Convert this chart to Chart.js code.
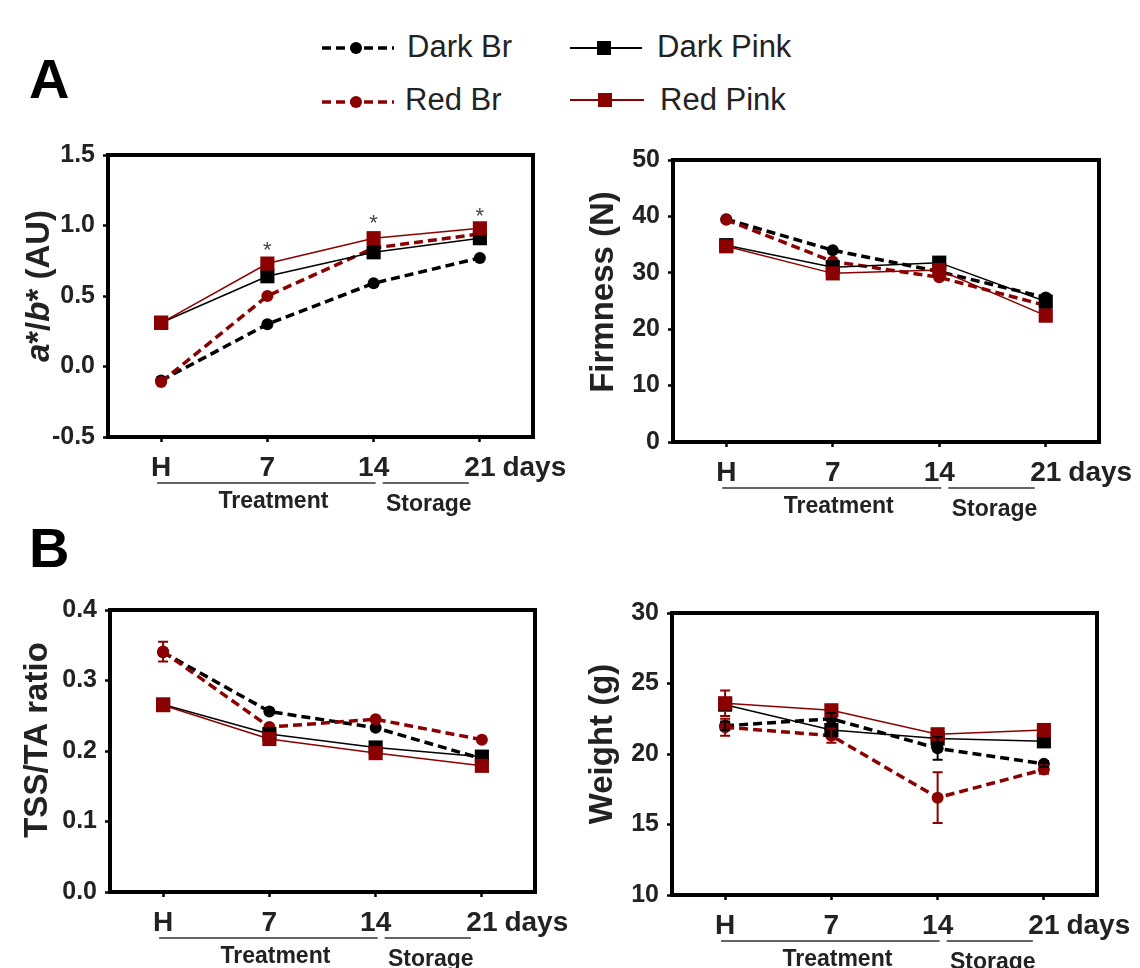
<!DOCTYPE html>
<html>
<head>
<meta charset="utf-8">
<script src="https://cdn.jsdelivr.net/npm/chart.js@4.4.1/dist/chart.umd.min.js"></script>
<style>
    body { margin: 0; background: #fff; }
    #fig { position: relative; width: 1140px; height: 968px; overflow: hidden; font-family: "Liberation Sans", Arial, sans-serif; }
    #fig canvas { position: absolute; }
    .letter { position: absolute; font-size: 56px; line-height: 56px; font-weight: bold; color: #000; }
    .leg { position: absolute; font-size: 31px; line-height: 30px; color: #222; white-space: nowrap; }
    .sym { position: absolute; }
</style>
</head>
<body>
<div id="fig">
    <div class="letter" style="left:29px;top:51px">A</div>
    <div class="letter" style="left:29px;top:520px">B</div>

    <svg class="sym" style="left:320px;top:38px" width="76" height="20"><line x1="2" y1="10" x2="74" y2="10" stroke="#000" stroke-width="3.5" stroke-dasharray="9 5"/><circle cx="36" cy="10" r="6" fill="#000"/></svg>
    <div class="leg" style="left:407px;top:32px">Dark Br</div>
    <svg class="sym" style="left:320px;top:92px" width="76" height="20"><line x1="2" y1="10" x2="74" y2="10" stroke="#8b0000" stroke-width="3.5" stroke-dasharray="9 5"/><circle cx="36" cy="10" r="6" fill="#8b0000"/></svg>
    <div class="leg" style="left:405px;top:85px">Red Br</div>

    <svg class="sym" style="left:568px;top:36px" width="76" height="24"><line x1="2" y1="12" x2="74" y2="12" stroke="#000" stroke-width="2"/><rect x="29" y="5" width="14" height="14" fill="#000"/></svg>
    <div class="leg" style="left:657px;top:32px">Dark Pink</div>
    <svg class="sym" style="left:568px;top:88px" width="78" height="24"><line x1="2" y1="12" x2="76" y2="12" stroke="#8b0000" stroke-width="2"/><rect x="30" y="5" width="14" height="14" fill="#8b0000"/></svg>
    <div class="leg" style="left:660px;top:85px">Red Pink</div>

    <canvas id="abChart" width="570" height="400" style="left:0;top:130px"></canvas>
    <canvas id="firmChart" width="570" height="400" style="left:570px;top:130px"></canvas>
    <canvas id="tssChart" width="570" height="388" style="left:0;top:580px"></canvas>
    <canvas id="weightChart" width="570" height="388" style="left:570px;top:580px"></canvas>
</div>

<script>
// x categories
const days = ['H', '7', '14', '21'];

// a*/b* (AU)
const abDarkBr = [-0.10, 0.30, 0.59, 0.77];
const abRedBr = [-0.11, 0.50, 0.84, 0.94];
const abDarkPink = [0.31, 0.64, 0.81, 0.91];
const abRedPink = [0.31, 0.73, 0.91, 0.98];
const abStars = [null, 0.86, 1.05, 1.10];

// Firmness (N)
const firmDarkBr = [39.5, 34.0, 30.2, 25.6];
const firmRedBr = [39.4, 32.0, 29.2, 24.2];
const firmDarkPink = [34.9, 31.0, 31.8, 24.9];
const firmRedPink = [34.7, 29.9, 30.5, 22.4];

// TSS/TA ratio
const tssDarkBr = [0.340, 0.256, 0.233, 0.189];
const tssRedBr = [0.341, 0.234, 0.245, 0.216];
const tssDarkPink = [0.266, 0.224, 0.205, 0.192];
const tssRedPink = [0.265, 0.217, 0.197, 0.179];
const tssRedBrErr = [0.014, 0, 0, 0];

// Weight (g)
const wDarkBr = [22.0, 22.5, 20.4, 19.3];
const wRedBr = [21.9, 21.3, 16.9, 18.9];
const wDarkPink = [23.5, 21.7, 21.1, 20.9];
const wRedPink = [23.6, 23.1, 21.4, 21.7];
const wDarkBrErr = [0.3, 0.4, 0.8, 0.2];
const wRedBrErr = [0.6, 0.5, 1.8, 0.3];
const wRedPinkErr = [0.9, 0.3, 0.3, 0.2];

const RED = '#8b0000';
const FONT = '"Liberation Sans", Arial, sans-serif';

function brSeries(label, data, color, errors) {
    return {
        label, data, errors,
        borderColor: color, backgroundColor: color,
        borderWidth: 3.5, borderDash: [9, 5],
        pointStyle: 'circle', pointRadius: 6, pointBackgroundColor: color, pointBorderWidth: 0
    };
}

function pinkSeries(label, data, color, errors) {
    return {
        label, data, errors,
        borderColor: color, backgroundColor: color,
        borderWidth: 1.5,
        pointStyle: 'rect', pointRadius: 10, pointBackgroundColor: color, pointBorderWidth: 0
    };
}

// box, y title, brackets, "days", asterisks and error bars
const decor = {
    id: 'decor',
    afterDatasetsDraw(chart) {
        const { ctx, scales: { x, y } } = chart;
        ctx.save();
        chart.data.datasets.forEach(ds => {
            if (!ds.errors) return;
            ctx.strokeStyle = ds.borderColor;
            ctx.lineWidth = 2;
            ds.data.forEach((v, i) => {
                const e = ds.errors[i];
                if (!e) return;
                const px = x.getPixelForValue(i);
                const top = y.getPixelForValue(v + e);
                const bot = y.getPixelForValue(v - e);
                ctx.beginPath();
                ctx.moveTo(px, top); ctx.lineTo(px, bot);
                ctx.moveTo(px - 5, top); ctx.lineTo(px + 5, top);
                ctx.moveTo(px - 5, bot); ctx.lineTo(px + 5, bot);
                ctx.stroke();
            });
        });
        ctx.restore();
    },
    afterDraw(chart, args, opts) {
        const { ctx, chartArea: a, scales: { x, y } } = chart;
        ctx.save();

        ctx.strokeStyle = '#000';
        ctx.lineWidth = 4;
        ctx.strokeRect(a.left, a.top, a.right - a.left, a.bottom - a.top);

        // rotated y title, parts may be italic
        ctx.translate(opts.titleX, opts.titleY);
        ctx.rotate(-Math.PI / 2);
        ctx.fillStyle = '#222';
        ctx.textBaseline = 'middle';
        ctx.textAlign = 'left';
        const fontOf = p => (p.italic ? 'italic ' : '') + 'bold 33px ' + FONT;
        let total = 0;
        opts.title.forEach(p => { ctx.font = fontOf(p); total += ctx.measureText(p.text).width; });
        let cx = -total / 2;
        opts.title.forEach(p => {
            ctx.font = fontOf(p);
            ctx.fillText(p.text, cx, 0);
            cx += ctx.measureText(p.text).width;
        });
        ctx.setTransform(1, 0, 0, 1, 0, 0);

        // "days" after the last tick label
        const x0 = x.getPixelForValue(0);
        const x2 = x.getPixelForValue(2);
        const x3 = x.getPixelForValue(3);
        ctx.font = 'bold 28px ' + FONT;
        ctx.fillStyle = '#222';
        ctx.textBaseline = 'middle';
        const w21 = ctx.measureText('21').width;
        ctx.fillText('days', x3 + w21 / 2 + 7, a.bottom + 5 + 9 + 16.8);

        // Treatment / Storage brackets
        const ly = a.bottom + 46;
        ctx.strokeStyle = '#333';
        ctx.lineWidth = 1.5;
        ctx.beginPath();
        ctx.moveTo(x0 - 4, ly); ctx.lineTo(x2 + 2, ly);
        ctx.moveTo(x2 + 9, ly); ctx.lineTo(x3 - 11, ly);
        ctx.stroke();
        ctx.font = 'bold 23px ' + FONT;
        ctx.textAlign = 'center';
        ctx.fillText('Treatment', (x0 + x2) / 2 + 6, a.bottom + 65);
        ctx.fillText('Storage', (x2 + x3) / 2 + 2, a.bottom + 68);

        // significance marks
        if (opts.stars) {
            ctx.font = '22px ' + FONT;
            ctx.fillStyle = '#444';
            ctx.textBaseline = 'alphabetic';
            opts.stars.forEach((v, i) => {
                if (v === null) return;
                ctx.fillText('*', x.getPixelForValue(i), y.getPixelForValue(v) + 12);
            });
        }
        ctx.restore();
    }
};

function makeChart(id, datasets, yOpts, layout, deco) {
    new Chart(document.getElementById(id), {
        type: 'line',
        data: { labels: days, datasets },
        options: {
            responsive: false,
            animation: false,
            devicePixelRatio: 1,
            layout: { padding: { top: layout.top, right: layout.right, left: 0, bottom: 0 } },
            plugins: { legend: { display: false }, tooltip: { enabled: false }, decor: deco },
            scales: {
                x: {
                    type: 'category',
                    offset: true,
                    afterFit: s => { s.height = layout.xHeight; },
                    border: { display: false },
                    grid: { offset: false, drawOnChartArea: false, drawTicks: true, tickLength: 5, tickColor: '#000', tickWidth: 2.5 },
                    ticks: { color: '#222', padding: 9, maxRotation: 0, font: { family: FONT, size: 28, weight: 'bold' } }
                },
                y: {
                    min: yOpts.min, max: yOpts.max,
                    afterFit: s => { s.width = layout.yWidth; },
                    border: { display: false },
                    grid: { drawOnChartArea: false, drawTicks: true, tickLength: 5, tickColor: '#000', tickWidth: 2.5 },
                    ticks: {
                        stepSize: yOpts.step, padding: 8, color: '#222',
                        font: { family: FONT, size: 25, weight: 'bold' },
                        callback: v => v.toFixed(yOpts.dec)
                    }
                }
            }
        },
        plugins: [decor]
    });
}

makeChart('abChart', [
    pinkSeries('Red Pink', abRedPink, RED),
    pinkSeries('Dark Pink', abDarkPink, '#000'),
    brSeries('Red Br', abRedBr, RED),
    brSeries('Dark Br', abDarkBr, '#000')
], { min: -0.5, max: 1.5, step: 0.5, dec: 1 },
{ top: 25, right: 37, yWidth: 108, xHeight: 93 },
{ titleX: 40, titleY: 156, stars: abStars,
  title: [{ text: 'a', italic: true }, { text: '*/' }, { text: 'b', italic: true }, { text: '* (AU)' }] });

makeChart('firmChart', [
    pinkSeries('Red Pink', firmRedPink, RED),
    pinkSeries('Dark Pink', firmDarkPink, '#000'),
    brSeries('Red Br', firmRedBr, RED),
    brSeries('Dark Br', firmDarkBr, '#000')
], { min: 0, max: 50, step: 10, dec: 0 },
{ top: 30, right: 41, yWidth: 103, xHeight: 88 },
{ titleX: 34, titleY: 162, title: [{ text: 'Firmness (N)' }] });

makeChart('tssChart', [
    pinkSeries('Red Pink', tssRedPink, RED),
    pinkSeries('Dark Pink', tssDarkPink, '#000'),
    brSeries('Red Br', tssRedBr, RED, tssRedBrErr),
    brSeries('Dark Br', tssDarkBr, '#000')
], { min: 0, max: 0.4, step: 0.1, dec: 1 },
{ top: 30, right: 35, yWidth: 110, xHeight: 76 },
{ titleX: 38, titleY: 160, title: [{ text: 'TSS/TA ratio' }] });

makeChart('weightChart', [
    pinkSeries('Red Pink', wRedPink, RED, wRedPinkErr),
    pinkSeries('Dark Pink', wDarkPink, '#000'),
    brSeries('Red Br', wRedBr, RED, wRedBrErr),
    brSeries('Dark Br', wDarkBr, '#000', wDarkBrErr)
], { min: 10, max: 30, step: 5, dec: 0 },
{ top: 33, right: 43, yWidth: 102, xHeight: 73 },
{ titleX: 33, titleY: 164, title: [{ text: 'Weight (g)' }] });
</script>
</body>
</html>
